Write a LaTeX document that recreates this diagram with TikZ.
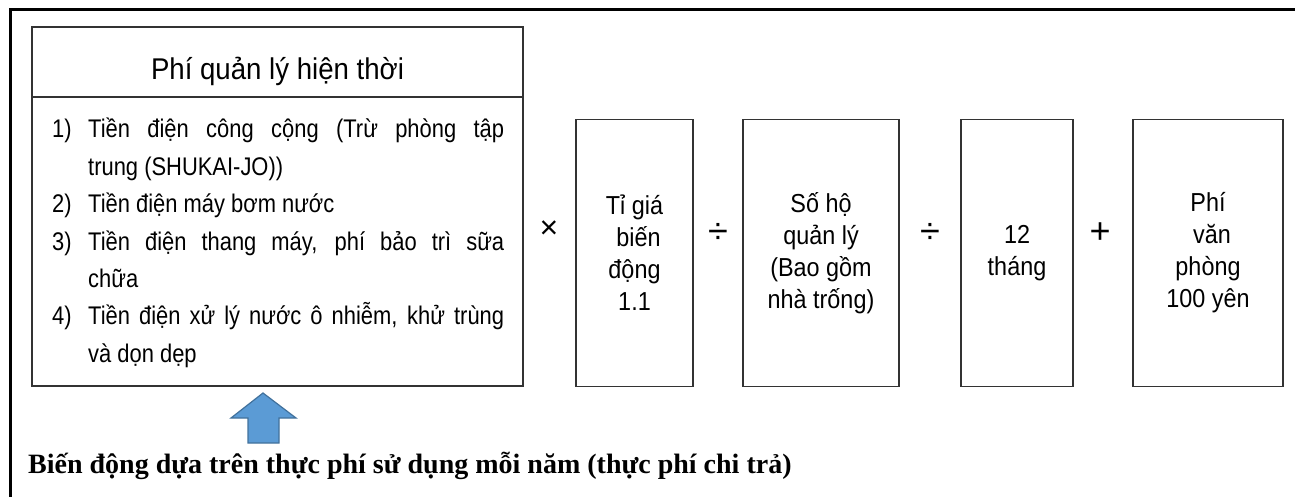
\documentclass[tikz,border=0pt]{standalone}
\usepackage{fontspec}
\setmainfont{Liberation Serif}
\setsansfont{Liberation Sans}
\newfontfamily\narrowsans[FakeStretch=0.86]{Liberation Sans}
\newfontfamily\boxsans[FakeStretch=0.9]{Liberation Sans}
\newfontfamily\titlesans[FakeStretch=0.92]{Liberation Sans}
\usepackage{tikz}
\usetikzlibrary{shapes,arrows,positioning}
\definecolor{arrowfill}{HTML}{5B9BD5}
\definecolor{arrowline}{HTML}{41719C}
\tikzset{box/.style={draw=black!80, line width=1.1pt, rectangle, inner sep=0pt,
        align=center, font=\boxsans\fontsize{26}{32}\selectfont}}
\tikzset{op/.style={inner sep=0pt, font=\sffamily\fontsize{36}{36}\selectfont}}
\newcommand{\itemline}[1]{\hangindent=36pt\hangafter=1\noindent\makebox[36pt][l]{#1}}

\begin{document}
\begin{tikzpicture}[x=1pt, y=-1pt]%[every node/.style={inner sep=0pt}]
                \useasboundingbox (0,0) rectangle (1295,497);
                \draw[line width=3pt] (10,497) -- (10,9.5) -- (1295,9.5);

                % current fee box
                \begin{scope}
                \node [box, minimum width=491, minimum height=359] (mgmt) at (277.5,206.5) {};
                \draw [draw=black!80, line width=1.1pt] (mgmt.west |- 0,97) -- (mgmt.east |- 0,97);
                \node [anchor=base, inner sep=0pt, font=\titlesans\fontsize{30}{30}\selectfont] (title) at (277.5,80) {Phí quản lý hiện thời};
                \node [anchor=base west, inner sep=0pt, text width=452, align=justify,
                    font=\narrowsans\fontsize{25.5}{37.4}\selectfont] (items) at (52,138) {%
                    \hyphenpenalty=10000\exhyphenpenalty=10000
                    \itemline{1)}Tiền điện công cộng (Trừ phòng tập\linebreak trung (SHUKAI-JO))\par
                    \itemline{2)}Tiền điện máy bơm nước\par
                    \itemline{3)}Tiền điện thang máy, phí bảo trì sữa\linebreak chữa\par
                    \itemline{4)}Tiền điện xử lý nước ô nhiễm, khử trùng\linebreak và dọn dẹp\par};
                \end{scope}

                % factors
                \node [box, minimum width=117, minimum height=267] (rate) at (634.5,253) {Tỉ giá\\\hspace*{8pt}biến\\động\\1.1};
                \node [box, minimum width=156, minimum height=267] (homes) at (821,253) {Số hộ\\quản lý\\(Bao gồm\\nhà trống)};
                \node [box, minimum width=112, minimum height=267] (months) at (1017,253) {12\\tháng};
                \node [box, minimum width=150, minimum height=267] (office) at (1208,253) {Phí\\\hspace*{8pt}văn\\phòng\\100 yên};

                \node [op, font=\sffamily\fontsize{32}{32}\selectfont] (times) at (549,230) {×};
                \node [op] (div1) at (718,233) {÷};
                \node [op] (div2) at (930,233) {÷};
                \node [op] (plus) at (1100,233) {+};

                % yearly note
                \draw [arrowline, fill=arrowfill, line width=1.2pt, line join=miter]
                    (263,393) -- (296,418) -- (279,418) -- (279,443) -- (248,443) -- (248,418) -- (231,418) -- cycle;
                \node [anchor=base west, inner sep=0pt, font=\bfseries\fontsize{28}{30}\selectfont] (note) at (28,473)
                    {Biến động dựa trên thực phí sử dụng mỗi năm (thực phí chi trả)};

            \end{tikzpicture}
\end{document}
